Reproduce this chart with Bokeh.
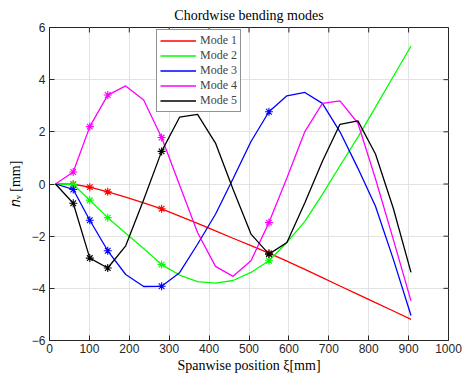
import math
from bokeh.plotting import figure
from bokeh.models import FixedTicker, Range1d, Legend, LegendItem
from bokeh.embed import file_html
from bokeh.resources import INLINE

# Spanwise positions of the nodes [mm]
xi = [15, 59.5, 101, 146, 191, 236, 281, 326, 371, 416, 460, 505, 550,
      595, 640, 684, 728, 773, 817, 862, 906]
marker_idx = [1, 2, 3, 6, 12]

mode1 = [0, -0.01, -0.12, -0.30, -0.50, -0.72, -0.95, -1.23, -1.51, -1.80, -2.08,
         -2.36, -2.65, -2.96, -3.27, -3.59, -3.91, -4.23, -4.55, -4.87, -5.19]
mode2 = [0, -0.02, -0.62, -1.29, -1.89, -2.47, -3.09, -3.49, -3.74, -3.80, -3.70,
         -3.39, -2.94, -2.24, -1.43, -0.40, 0.70, 1.80, 2.95, 4.13, 5.29]
mode3 = [0, -0.21, -1.39, -2.56, -3.47, -3.93, -3.92, -3.40, -2.31, -1.16, 0.20,
         1.63, 2.77, 3.38, 3.51, 3.09, 2.00, 0.60, -0.85, -2.90, -5.04]
mode4 = [0, 0.46, 2.20, 3.41, 3.76, 3.22, 1.78, -0.04, -1.86, -3.16, -3.54,
         -2.94, -1.48, 0.23, 2.01, 3.09, 3.19, 2.33, 0.20, -2.14, -4.48]
mode5 = [0, -0.74, -2.84, -3.22, -2.37, -0.60, 1.25, 2.56, 2.67, 1.57, -0.20,
         -1.92, -2.69, -2.24, -0.72, 0.87, 2.29, 2.42, 1.15, -0.95, -3.39]

names = ["Mode 1", "Mode 2", "Mode 3", "Mode 4", "Mode 5"]
colors = ["#ff0000", "#00ff00", "#0000ff", "#ff00ff", "#000000"]
modes = [mode1, mode2, mode3, mode4, mode5]

x_ticks = [0, 100, 200, 300, 400, 500, 600, 700, 800, 900, 1000]
y_ticks = [-6, -4, -2, 0, 2, 4, 6]
x_min, x_max = 0, 1000
y_min, y_max = -6, 6

p = figure(width=468, height=381, x_range=Range1d(x_min, x_max), y_range=Range1d(y_min, y_max),
           output_backend="svg", toolbar_location=None,
           min_border_left=49, min_border_right=20, min_border_top=25, min_border_bottom=41)

p.title.text = "Chordwise bending modes"
p.title.align = "center"
p.title.text_font = "Liberation Serif"
p.title.text_font_size = "14px"
p.title.text_font_style = "normal"
p.title.text_color = "#000000"
p.title.offset = 0

axis_col = "#262626"
for ax in [p.xaxis[0], p.yaxis[0]]:
    ax.major_tick_in = 5
    ax.major_tick_out = 0
    ax.minor_tick_line_color = None
    ax.axis_line_color = axis_col
    ax.major_tick_line_color = axis_col
    ax.major_label_text_font = "Liberation Sans"
    ax.major_label_text_font_size = "12px"
    ax.major_label_text_color = axis_col
    ax.axis_label_text_font = "Liberation Serif"
    ax.axis_label_text_font_size = "14px"
    ax.axis_label_text_font_style = "normal"
    ax.axis_label_text_color = "#000000"
p.xaxis[0].ticker = FixedTicker(ticks=x_ticks)
p.yaxis[0].ticker = FixedTicker(ticks=y_ticks)
p.xaxis[0].axis_label = "Spanwise position ξ[mm]"
p.yaxis[0].axis_label = "𝑛ᵥ [mm]"
p.xaxis[0].major_label_standoff = 3
p.yaxis[0].major_label_standoff = 4
p.xaxis[0].axis_label_standoff = 2
p.yaxis[0].axis_label_standoff = 6

p.xgrid.ticker = FixedTicker(ticks=x_ticks)
p.ygrid.ticker = FixedTicker(ticks=y_ticks)
p.grid.grid_line_color = "#e3e3e3"
p.grid.grid_line_width = 1
p.outline_line_color = axis_col

# inward ticks on the top and right edges (box on)
p.ray(x=x_ticks, y=[y_max] * len(x_ticks), length=5, length_units="screen",
      angle=-math.pi / 2, line_color=axis_col, line_width=1)
p.ray(x=[x_max] * len(y_ticks), y=y_ticks, length=5, length_units="screen",
      angle=math.pi, line_color=axis_col, line_width=1)

items = []
for name, ys, col in zip(names, modes, colors):
    r = p.line(xi, ys, line_color=col, line_width=1.3)
    p.scatter([xi[i] for i in marker_idx], [ys[i] for i in marker_idx],
              marker="asterisk", size=8, line_color=col, line_width=1.1)
    items.append(LegendItem(label=name, renderers=[r]))

legend = Legend(items=items, location=(107, 228))
legend.label_text_font = "Liberation Serif"
legend.label_text_font_size = "12px"
legend.glyph_width = 36
legend.glyph_height = 13
legend.label_height = 13
legend.spacing = -2
legend.padding = 3
legend.margin = 0
legend.label_standoff = 4
legend.border_line_color = "#262626"
legend.border_line_width = 1
legend.background_fill_color = "white"
legend.background_fill_alpha = 1
p.add_layout(legend)

open("out.html", "w").write(file_html(p, INLINE))
